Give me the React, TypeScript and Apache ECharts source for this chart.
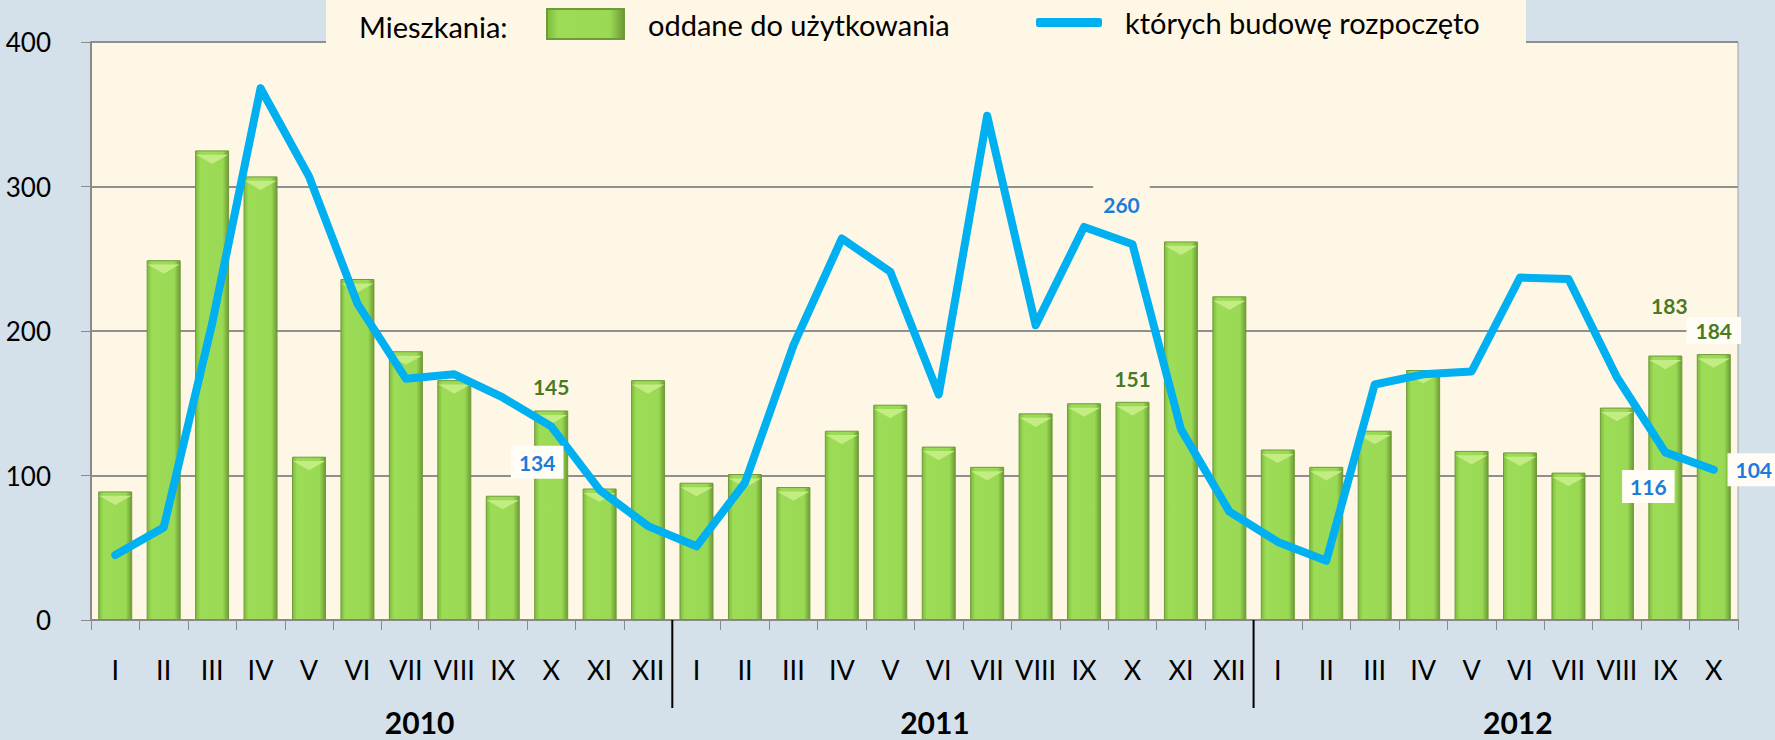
import React, { useEffect, useRef } from "react";
import * as echarts from "echarts";

const monthsFull = ["I", "II", "III", "IV", "V", "VI", "VII", "VIII", "IX", "X", "XI", "XII"];
const monthsLast = ["I", "II", "III", "IV", "V", "VI", "VII", "VIII", "IX", "X"];
const categories = [...monthsFull, ...monthsFull, ...monthsLast];
const years = ["2010", "2011", "2012"];
const yearSizes = [12, 12, 10];

const seriesNames = ["oddane do użytkowania", "których budowę rozpoczęto"];
const legendTitle = "Mieszkania:";

// dwellings completed (bars)
const completed = [
  89, 249, 325, 307, 113, 236, 186, 166, 86, 145, 91, 166,
  95, 101, 92, 131, 149, 120, 106, 143, 150, 151, 262, 224,
  118, 106, 131, 173, 117, 116, 102, 147, 183, 184,
];
// dwellings started (line)
const started = [
  45, 64, 205, 368, 307, 219, 167, 170, 154, 134, 90, 65,
  51, 95, 190, 264, 241, 156, 349, 204, 272, 260, 132, 75,
  54, 41, 163, 170, 172, 237, 236, 168, 116, 104,
];

const yTicks = [0, 100, 200, 300, 400];

const FONT = "Lato, 'Liberation Sans', sans-serif";

// label styling (which points carry a label and how it is offset)
const barLabelStyle: Record<number, any> = {
  9: { offset: [0, -8] },
  21: { offset: [0, -8] },
  32: { offset: [4, -35] },
  33: { offset: [0, -5], backgroundColor: "#fffdf6", padding: [3, 9] },
};
// line labels: centre of label relative to the data point
const lineLabelShift: Record<number, [number, number]> = {
  9: [-14, 36],
  21: [-11, -40],
  32: [-17, 34],
  33: [40, 0],
};
const lineLabelBg: Record<number, string> = {
  9: "#fffdf5",
  21: "#fff7e6",
  32: "#fffdf5",
  33: "#fffdf5",
};
const lineLabelPad: Record<number, number[]> = {
  9: [6, 8],
  21: [11, 10],
  32: [6, 8],
  33: [6, 8],
};

export default function App() {
  const ref = useRef<HTMLDivElement>(null);

  useEffect(() => {
    document.body.style.margin = "0";
    const chart = echarts.init(ref.current!, undefined, { renderer: "svg" });

    const barGradient = new echarts.graphic.LinearGradient(0, 0, 1, 0, [
      { offset: 0, color: "#7dbb3c" },
      { offset: 0.14, color: "#9cdc56" },
      { offset: 0.82, color: "#9ad954" },
      { offset: 1, color: "#6c9b33" },
    ]);

    const barData = completed.map((v, i) =>
      barLabelStyle[i]
        ? {
            value: v,
            label: {
              show: true,
              position: "top",
              color: "#4a7a1f",
              fontWeight: "bold",
              fontSize: 21,
              fontFamily: FONT,
              ...barLabelStyle[i],
            },
          }
        : v
    );

    const lineData = started.map((v, i) =>
      lineLabelShift[i]
        ? {
            value: v,
            label: {
              show: true,
              position: "inside",
              color: "#1d7bdc",
              fontWeight: "bold",
              fontSize: 21,
              fontFamily: FONT,
              backgroundColor: lineLabelBg[i],
              padding: lineLabelPad[i],
            },
          }
        : v
    );

    const option: any = {
      animation: false,
      backgroundColor: "#d4e1eb",
      textStyle: { fontFamily: FONT },
      grid: {
        left: 91,
        right: 37,
        top: 42,
        bottom: 120,
        show: true,
        backgroundColor: "#fff7e6",
        borderColor: "#a0a0a0",
        borderWidth: 1,
      },
      legend: [
        {
          data: [seriesNames[0]],
          left: 546,
          top: 8,
          padding: 0,
          itemWidth: 77,
          itemHeight: 30,
          icon: "rect",
          textStyle: { fontSize: 29, color: "#000", fontFamily: FONT, padding: [0, 0, 0, 19] },
        },
        {
          data: [seriesNames[1]],
          left: 1036,
          top: 8,
          padding: 0,
          itemWidth: 66,
          itemHeight: 9,
          icon: "roundRect",
          itemStyle: { color: "#00b0f0" },
          textStyle: { fontSize: 29, color: "#000", fontFamily: FONT, padding: [0, 0, 0, 18] },
        },
      ],
      xAxis: {
        type: "category",
        data: categories,
        boundaryGap: true,
        axisLine: { lineStyle: { color: "#8a8a8a", width: 2 } },
        axisTick: { show: true, length: 10, lineStyle: { color: "#8a8a8a", width: 1 } },
        axisLabel: { interval: 0, fontSize: 27, color: "#000", margin: 36, fontFamily: FONT },
      },
      yAxis: {
        type: "value",
        min: yTicks[0],
        max: yTicks[yTicks.length - 1],
        interval: 100,
        axisLine: { show: true, lineStyle: { color: "#8a8a8a", width: 2 } },
        axisTick: { show: true, length: 10, lineStyle: { color: "#8a8a8a", width: 1 } },
        axisLabel: { fontSize: 26, color: "#000", margin: 40, fontFamily: FONT },
        splitLine: { lineStyle: { color: "#8f8f8f", width: 2 } },
      },
      series: [
        {
          name: seriesNames[0],
          type: "bar",
          data: barData,
          barWidth: 34,
          itemStyle: { color: barGradient, borderColor: "#6f9a3a", borderWidth: 1 },
          z: 2,
        },
        {
          name: "bevel",
          type: "pictorialBar",
          data: completed,
          symbol: "path://M0,0 L34,0 L17,9 Z",
          symbolSize: [32, 9],
          symbolPosition: "end",
          symbolOffset: [0, "50%"],
          itemStyle: { color: "#c3ec82" },
          silent: true,
          z: 3,
        },
        {
          name: seriesNames[1],
          type: "line",
          data: lineData,
          showSymbol: true,
          symbol: "circle",
          symbolSize: 2,
          color: "#00b0f0",
          itemStyle: { color: "#00b0f0" },
          lineStyle: { color: "#00b0f0", width: 8, cap: "round", join: "round" },
          labelLayout: (params: any) => {
            const s = lineLabelShift[params.dataIndex];
            if (!s || !params.rect) return {};
            const r = params.rect;
            return {
              x: r.x + r.width / 2 + s[0],
              y: r.y + r.height / 2 + s[1],
              align: "center",
              verticalAlign: "middle",
              hideOverlap: false,
            };
          },
          z: 5,
        },
      ],
    };

    chart.setOption(option);

    // year separators and year labels, placed from the category axis
    const cx = (i: number) => chart.convertToPixel({ xAxisIndex: 0 }, i) as number;
    const step = cx(1) - cx(0);
    const graphics: any[] = [
      {
        type: "rect",
        shape: { x: 326, y: 0, width: 1200, height: 44 },
        style: { fill: "#fff7e6" },
        z: 3,
      },
      {
        type: "text",
        x: 359,
        y: 26,
        style: {
          text: legendTitle,
          font: `29px ${FONT}`,
          fill: "#000",
          textVerticalAlign: "middle",
        },
        z: 4,
      },
    ];
    const yearLabelShift = [38, -28, 22];
    let start = 0;
    years.forEach((yr, k) => {
      const end = start + yearSizes[k];
      const mid = (cx(start) + cx(end - 1)) / 2;
      graphics.push({
        type: "text",
        x: mid + yearLabelShift[k],
        y: 722,
        style: {
          text: yr,
          font: `bold 30px ${FONT}`,
          fill: "#000",
          textAlign: "center",
          textVerticalAlign: "middle",
        },
        z: 4,
      });
      if (k < years.length - 1) {
        const bx = cx(end - 1) + step / 2;
        graphics.push({
          type: "line",
          shape: { x1: bx, y1: 620, x2: bx, y2: 708 },
          style: { stroke: "#000", lineWidth: 2 },
          z: 4,
        });
      }
      start = end;
    });
    chart.setOption({ graphic: graphics });

    return () => chart.dispose();
  }, []);

  return <div ref={ref} style={{ width: 1775, height: 740 }} />;
}
